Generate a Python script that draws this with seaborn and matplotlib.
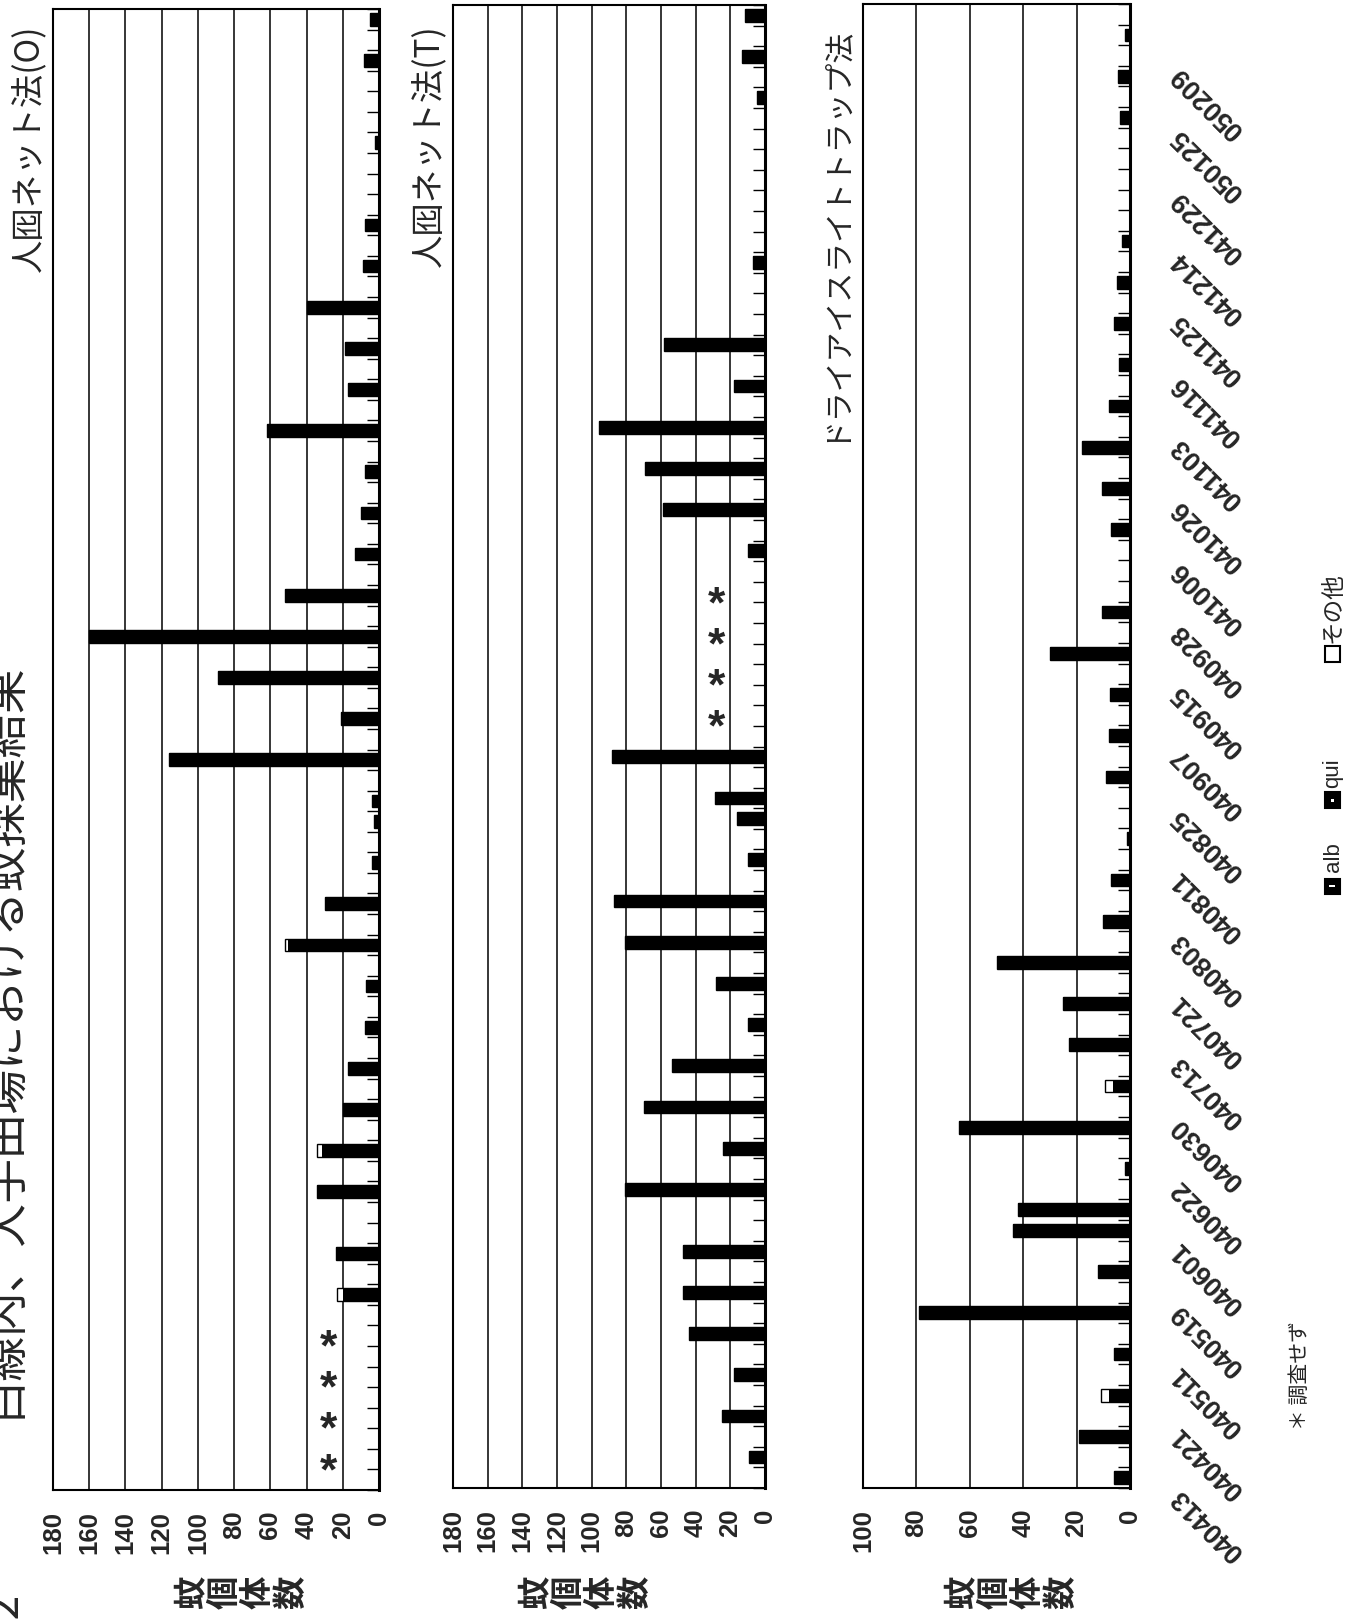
import numpy as np
import pandas as pd
import seaborn as sns
from matplotlib import pyplot as plt
from matplotlib.patches import Rectangle

sns.set_style("white")
plt.rcParams["font.family"] = ["Liberation Sans", "Noto Sans CJK JP"]
CJK = "Noto Sans CJK JP"

N_SLOTS = 72  # category slots on the date axis, labels every 3rd slot

DATES = [
    "040413", "040421", "040511", "040519", "040601", "040622", "040630", "040713",
    "040721", "040803", "040811", "040825", "040907", "040915", "040928", "041006",
    "041026", "041103", "041116", "041125", "041214", "041229", "050125", "050209",
]

# 人囮ネット法(O)
o_slot = [9, 11, 14, 16, 18, 20, 22, 24, 26, 28, 30, 32, 33, 35, 37, 39, 41, 43,
          45, 47, 49, 51, 53, 55, 57, 59, 61, 65, 69, 71]
o_alb = [20, 23.5, 34, 31.5, 20, 17, 8, 7, 50, 30, 4, 3, 4, 116, 21, 89, 160, 52,
         13, 10, 7.5, 62, 17, 19, 40, 9, 7.5, 2.4, 8.5, 5]
o_other_slot = [9, 16, 26]
o_other = [3, 2.5, 2]
o_skip = [1, 3, 5, 7]

# 人囮ネット法(T)
t_slot = [1, 3, 5, 7, 9, 11, 14, 16, 18, 20, 22, 24, 26, 28, 30, 32, 33, 35,
          45, 47, 49, 51, 53, 55, 59, 67, 69, 71]
t_alb = [9, 25, 18, 44, 47.5, 47.5, 81, 24, 70, 53.5, 10, 28, 81, 87, 10, 16, 29, 88.5,
         9.6, 58.7, 69, 96, 17.7, 58, 6.7, 4.8, 13, 11.5]
t_other_slot = []
t_other = []
t_skip = [37, 39, 41, 43]

# ドライアイスライトトラップ法
d_slot = [0, 2, 4, 6, 8, 10, 12, 13, 15, 17, 19, 21, 23, 25, 27, 29, 31, 34, 36,
          38, 40, 42, 46, 48, 50, 52, 54, 56, 58, 60, 66, 68, 70]
d_alb = [6, 19, 8, 6, 79, 12, 44, 42, 2, 64, 6.5, 23, 25, 50, 10, 7, 1, 9, 7.7,
         7.4, 30, 10.5, 7, 10.6, 18, 8, 4, 6, 5, 3, 3.7, 4.4, 2]
d_other_slot = [4, 19]
d_other = [3, 3]
d_skip = []

W, H = 1361, 1620
fig = plt.figure(figsize=(W / 100, H / 100), dpi=100)


def fx(px):
    return px / W


def fy(py):
    return 1 - py / H


def make_df(slots, alb, other_slots, other):
    df = pd.DataFrame({"slot": np.arange(N_SLOTS)})
    df["alb"] = 0.0
    df["other"] = 0.0
    df.loc[slots, "alb"] = alb
    if other_slots:
        df.loc[other_slots, "other"] = other
    df["total"] = df["alb"] + df["other"]
    return df


def draw_panel(box, df, vmax, skips, title, title_x, title_size, label_cx):
    left, top, right, bottom = box
    ax = fig.add_axes([fx(left), fy(bottom), (right - left) / W, (bottom - top) / H])
    common = dict(y="slot", orient="y", native_scale=True, width=0.62,
                  saturation=1, errorbar=None, ax=ax)
    sns.barplot(data=df, x="total", color="white", edgecolor="black",
                linewidth=1.0, **common)
    sns.barplot(data=df, x="alb", color="black", linewidth=0, **common)
    ax.set_xlim(vmax, 0)
    ax.set_ylim(-0.5, N_SLOTS - 0.5)
    ax.set_xlabel("")
    ax.set_ylabel("")
    ax.set_axisbelow(True)
    ax.set_xticks(range(0, vmax + 1, 20))
    ax.grid(axis="x", color="black", linewidth=1.1)
    ax.grid(axis="y", visible=False)
    ax.tick_params(axis="x", length=0, labelrotation=90, pad=15, labelsize=18.5)
    for lab in ax.get_xticklabels():
        lab.set_fontweight("bold")
    ax.yaxis.set_ticks_position("right")
    ax.set_yticks(np.arange(-0.5, N_SLOTS, 1))
    ax.tick_params(axis="y", direction="in", length=9, width=1, color="black",
                   labelright=False, labelleft=False)
    for s in ax.spines.values():
        s.set_color("black")
        s.set_linewidth(1.5)
    ax.spines["right"].set_linewidth(2.2)

    # "not surveyed" marks
    for k in skips:
        ax.text(28, k - 0.65, "*", ha="center", va="center", fontsize=32,
                fontweight="bold", family="Liberation Sans")

    fig.text(fx(title_x), fy(24), title, rotation=90, ha="center", va="top",
             fontsize=title_size, family=CJK)
    for i, ch in enumerate("蚊個体数"):
        fig.text(fx(label_cx + (i - 1.5) * 33), fy(1592), ch, rotation=90,
                 ha="center", va="center", fontsize=24, fontweight="bold", family=CJK)
    return ax


ax1 = draw_panel((53, 9, 379, 1490), make_df(o_slot, o_alb, o_other_slot, o_other),
                 180, o_skip, "人囮ネット法(O)", 29, 24, 242)
ax2 = draw_panel((453, 5, 765, 1488), make_df(t_slot, t_alb, t_other_slot, t_other),
                 180, t_skip, "人囮ネット法(T)", 429, 24, 586)
ax3 = draw_panel((863, 4, 1130, 1488), make_df(d_slot, d_alb, d_other_slot, d_other),
                 100, d_skip, "ドライアイスライトトラップ法", 833, 21.5, 1012)

# date labels, one every third slot
for j, lab in enumerate(DATES):
    ax3.text(1.0 + 45 / 267, 3 * j - 0.7, lab, transform=ax3.get_yaxis_transform(),
             rotation=135, rotation_mode="anchor", ha="right", va="center",
             fontsize=19.5, fontweight="bold", clip_on=False)

# page title, cut at the left edge as in the scan
fig.text(fx(2), fy(661), "白線内、大手田場における蚊採集結果", rotation=90,
         ha="center", va="top", fontsize=32, family=CJK)
fig.text(fx(2), fy(1591), "図2", rotation=90, ha="center", va="top",
         fontsize=32, family=CJK)

# legend
legend_items = [
    ("alb", 886, 872, "black", "black", 16),
    ("qui", 800, 788, "black", "black", 16),
    ("その他", 654, 643, "white", "black", 17),
]
for name, my, ty, fc, ec, fs in legend_items:
    sz = 15
    fig.add_artist(Rectangle((fx(1332 - sz / 2), fy(my + sz / 2)), sz / W, sz / H,
                             transform=fig.transFigure, facecolor=fc, edgecolor=ec,
                             linewidth=1.5))
    fam = CJK if name == "その他" else "Liberation Sans"
    fig.text(fx(1333), fy(ty), name, rotation=90, ha="center", va="bottom",
             fontsize=fs, family=fam)
fig.add_artist(Rectangle((fx(1332 - 3), fy(886 + 1)), 6 / W, 2 / H,
                         transform=fig.transFigure, facecolor="white", linewidth=0))
fig.add_artist(Rectangle((fx(1332 - 1.5), fy(800 + 1.5)), 3 / W, 3 / H,
                         transform=fig.transFigure, facecolor="white", linewidth=0))

fig.text(fx(1300), fy(1430), "＊ 調査せず", rotation=90, ha="center", va="bottom",
         fontsize=15, family=CJK)

fig.savefig("out.png", dpi=100)
